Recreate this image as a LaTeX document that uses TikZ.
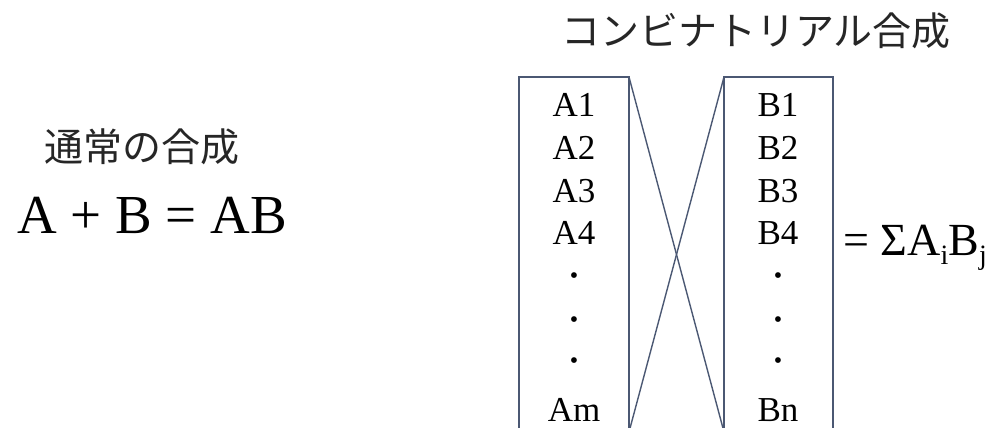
\documentclass[tikz,border=0pt]{standalone}
\usepackage{fontspec}
\setmainfont{Liberation Serif}
\newfontfamily\jp{Noto Sans CJK JP}
\definecolor{boxline}{RGB}{75,88,115}
\begin{document}
\begin{tikzpicture}[x=1pt,y=-1pt,
  jptext/.style={inner sep=0pt, font=\jp\fontsize{39}{39}\selectfont, text=black!85},
  item/.style={inner sep=0pt, anchor=base, font=\fontsize{35}{35}\selectfont},
  dotitem/.style={inner sep=0pt, anchor=base, font=\fontsize{24}{24}\selectfont},
  boxstroke/.style={draw=boxline, line width=1.4pt}]
\useasboundingbox (0,0) rectangle (996,428);
\clip (0,0) rectangle (996,428);
% left side
\node[jptext] (normal) at (142,147) {通常の合成};
\node[inner sep=0pt, anchor=base, font=\fontsize{55}{55}\selectfont] (eq) at (152,233) {A + B = AB};
% title
\node[jptext] (title) at (756,31) {コンビナトリアル合成};
% box corners
\coordinate (Atl) at (519,77);
\coordinate (Atr) at (629,77);
\coordinate (Abl) at (519,432);
\coordinate (Abr) at (629,432);
\coordinate (Btl) at (724,77);
\coordinate (Btr) at (833,77);
\coordinate (Bbl) at (724,432);
\coordinate (Bbr) at (833,432);
\draw[boxstroke] (Abl) -- (Atl) -- (Atr) -- (Abr);
\draw[boxstroke] (Bbl) -- (Btl) -- (Btr) -- (Bbr);
\draw[boxstroke] (Atr) -- (Bbl);
\draw[boxstroke] (Btl) -- (Abr);
% items
\foreach \n/\t/\y in {a1/A1/117, a2/A2/159, a3/A3/202, a4/A4/244, am/Am/421}
  \node[item] (\n) at (574,\y) {\t};
\foreach \n/\t/\y in {b1/B1/117, b2/B2/159, b3/B3/202, b4/B4/244, bn/Bn/421}
  \node[item] (\n) at (778,\y) {\t};
\foreach \n/\y in {ad1/283, ad2/327, ad3/368}
  \node[dotitem] (\n) at (574,\y) {•};
\foreach \n/\y in {bd1/283, bd2/327, bd3/368}
  \node[dotitem] (\n) at (778,\y) {•};
% formula
\node[inner sep=0pt, anchor=base west, font=\fontsize{46}{46}\selectfont] (sum) at (843,255)
  {= ΣA\raisebox{-9pt}{\fontsize{28}{28}\selectfont i}B\raisebox{-9pt}{\fontsize{28}{28}\selectfont j}};
\end{tikzpicture}
\end{document}
